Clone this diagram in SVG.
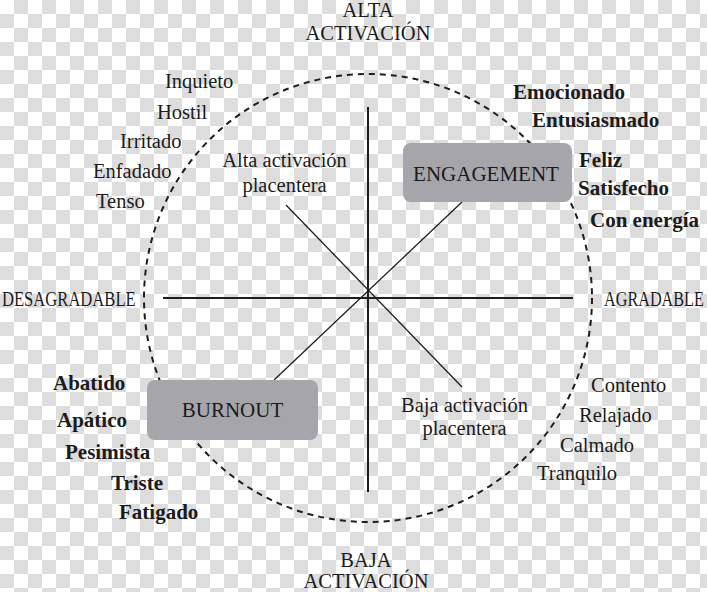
<svg xmlns="http://www.w3.org/2000/svg" width="707" height="592" viewBox="0 0 707 592">
<defs>
<pattern id="chk" width="28" height="28" patternUnits="userSpaceOnUse">
<rect width="28" height="28" fill="#ffffff"/>
<rect x="14" y="0" width="14" height="14" fill="#dddddd"/>
<rect x="0" y="14" width="14" height="14" fill="#dddddd"/>
</pattern>
</defs>
<style>
text{font-family:"Liberation Serif","Times New Roman",serif;fill:#1b1b1b;font-size:20.5px}
.b{font-weight:bold;font-size:21px}
.m{text-anchor:middle}
.big{font-size:21px}
.box{fill:#a6a6aa}
.ax{stroke:#1e1e1e;stroke-width:2;fill:none}
.dg{stroke:#1e1e1e;stroke-width:1.3;fill:none}
.circ{stroke:#1e1e1e;stroke-width:2;stroke-dasharray:6 5;fill:none}
</style>
<rect width="707" height="592" fill="url(#chk)"/>
<g id="connectors">
<circle class="circ" cx="368" cy="298" r="224"/>
<line class="ax" x1="368" y1="107" x2="368" y2="492"/>
<line class="ax" x1="163" y1="298" x2="573" y2="298"/>
<line class="dg" x1="286" y1="205" x2="462" y2="387"/>
<line class="dg" x1="274" y1="380" x2="462" y2="202"/>
</g>
<g id="engagement">
<rect class="box" x="403" y="143" width="169" height="59" rx="8"/>
<text class="m big" x="486" y="181">ENGAGEMENT</text>
</g>
<g id="burnout">
<rect class="box" x="147" y="380" width="171" height="60" rx="8"/>
<text class="m big" x="232.5" y="417">BURNOUT</text>
</g>
<g id="axis-labels">
<text class="m" x="368" y="17">ALTA</text>
<text class="m" x="368" y="40">ACTIVACIÓN</text>
<text class="m" x="366" y="567">BAJA</text>
<text class="m" x="366" y="588">ACTIVACIÓN</text>
<text transform="translate(2,306) scale(0.81,1)" x="0" y="0">DESAGRADABLE</text>
<text transform="translate(604,306) scale(0.79,1)" x="0" y="0">AGRADABLE</text>
</g>
<g id="alta-placentera">
<text class="m" x="284.5" y="167">Alta activación</text>
<text class="m" x="284.5" y="192">placentera</text>
</g>
<g id="baja-placentera">
<text class="m" x="464.5" y="412">Baja activación</text>
<text class="m" x="464.5" y="435">placentera</text>
</g>
<g id="negative-high">
<text x="165" y="88">Inquieto</text>
<text x="157" y="119">Hostil</text>
<text x="120" y="148">Irritado</text>
<text x="93" y="178">Enfadado</text>
<text x="96" y="208">Tenso</text>
</g>
<g id="positive-high">
<text class="b" x="513" y="99">Emocionado</text>
<text class="b" x="532" y="127">Entusiasmado</text>
<text class="b" x="579" y="167">Feliz</text>
<text class="b" x="578" y="195">Satisfecho</text>
<text class="b" x="590" y="227">Con energía</text>
</g>
<g id="negative-low">
<text class="b" x="53" y="390">Abatido</text>
<text class="b" x="57" y="427">Apático</text>
<text class="b" x="65" y="459">Pesimista</text>
<text class="b" x="111" y="490">Triste</text>
<text class="b" x="119" y="519">Fatigado</text>
</g>
<g id="positive-low">
<text x="591" y="392">Contento</text>
<text x="579" y="422">Relajado</text>
<text x="560" y="452">Calmado</text>
<text x="537" y="480">Tranquilo</text>
</g>
</svg>
